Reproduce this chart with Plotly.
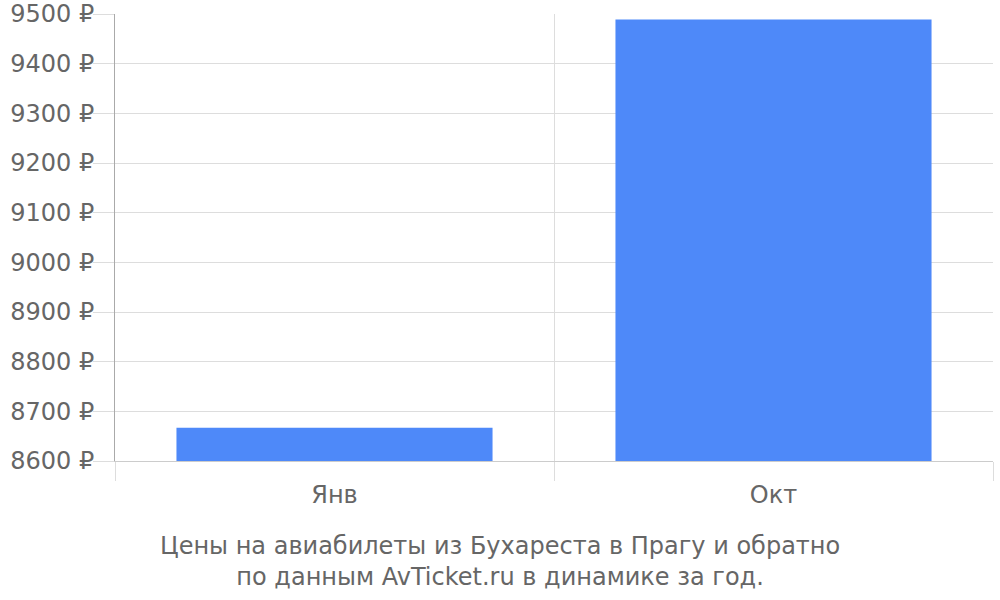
import plotly.graph_objects as go

months = ["Янв", "Окт"]
prices = [8667, 9489]
y_ticks = [8600, 8700, 8800, 8900, 9000, 9100, 9200, 9300, 9400, 9500]
y_labels = [f"{v} ₽" for v in y_ticks]
title_lines = ["Цены на авиабилеты из Бухареста в Прагу и обратно",
               "по данным AvTicket.ru в динамике за год."]

fig = go.Figure()
fig.add_trace(go.Bar(
    x=months,
    y=prices,
    marker=dict(color="#4e89f9", line=dict(width=0)),
    width=0.72,
))

fig.update_layout(
    width=1000, height=600,
    margin=dict(l=115, r=7, t=14, b=139),
    plot_bgcolor="white",
    paper_bgcolor="white",
    font=dict(family="DejaVu Sans", size=24, color="#666666"),
    showlegend=False,
    xaxis=dict(
        tickson="boundaries",
        ticks="outside", ticklen=19, tickcolor="#dddddd",
        ticklabelstandoff=12,
        showgrid=True, gridcolor="#dddddd",
        showline=True, linecolor="#cccccc",
        automargin=False,
    ),
    yaxis=dict(
        range=[8600, 9500],
        tickvals=y_ticks,
        ticktext=y_labels,
        ticks="outside", ticklen=21, tickcolor="#dddddd",
        ticklabelstandoff=-6,
        showgrid=True, gridcolor="#dddddd",
        showline=True, linecolor="#aaaaaa",
        zeroline=False,
        automargin=False,
    ),
    annotations=[dict(
        text="<br>".join(title_lines),
        xref="paper", yref="paper",
        x=(500 - 115) / (1000 - 115 - 7), y=-0.224,
        xanchor="center", yanchor="middle",
        showarrow=False,
        font=dict(family="DejaVu Sans", size=24, color="#666666"),
    )],
)

# the page body has a default margin; drop it so the 1000x600 figure fits the window
fig.write_html("out.html", config={"displayModeBar": False},
               post_script="document.body.style.margin='0';document.body.style.overflow='hidden';")
